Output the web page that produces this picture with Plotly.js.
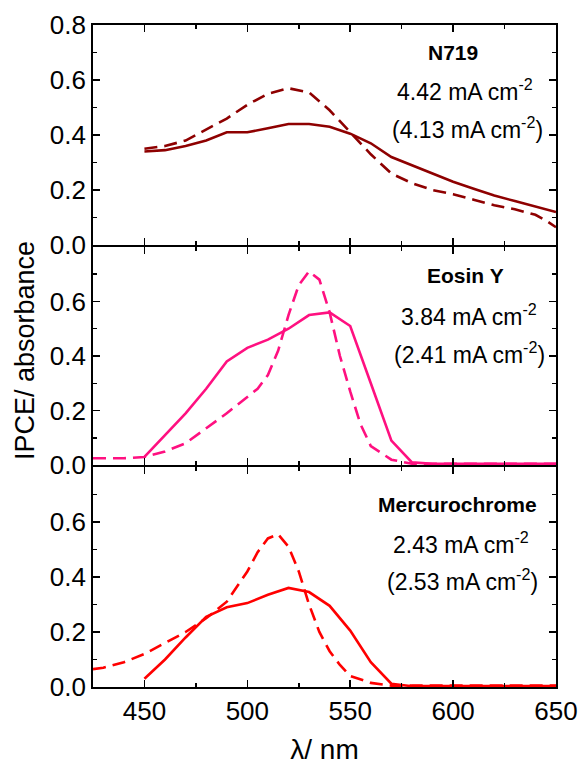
<!DOCTYPE html>
<html><head><meta charset="utf-8">
<script src="https://cdn.plot.ly/plotly-3.0.1.min.js"></script>
<style>body{margin:0;background:#fff}#chart{width:579px;height:765px}</style>
</head><body><div id="chart"></div>
<script>
// N719
const n719SolidX = [450,460,470,480,490,500,510,520,530,540,550,560,570,580,590,600,610,620,630,640,650];
const n719SolidY = [0.34,0.345,0.36,0.38,0.41,0.41,0.425,0.44,0.44,0.43,0.405,0.37,0.32,0.29,0.26,0.23,0.205,0.18,0.16,0.14,0.12];
const n719DashX = [450,460,470,480,490,500,510,520,530,540,550,560,570,580,590,600,610,620,630,640,645,650];
const n719DashY = [0.35,0.36,0.38,0.42,0.46,0.51,0.55,0.57,0.555,0.49,0.41,0.33,0.26,0.225,0.2,0.185,0.165,0.145,0.13,0.11,0.09,0.065];
// Eosin Y
const eosinSolidX = [450,460,470,480,490,500,510,520,530,540,550,560,570,580,590,600,610,620,630,640,650];
const eosinSolidY = [0.03,0.11,0.19,0.28,0.38,0.43,0.46,0.5,0.55,0.56,0.51,0.3,0.09,0.01,0.005,0.005,0.005,0.005,0.005,0.005,0.005];
const eosinDashX = [425,440,450,460,470,480,490,500,505,510,515,520,525,530,535,540,545,550,555,560,570,580,600,620,650];
const eosinDashY = [0.025,0.025,0.03,0.05,0.08,0.135,0.19,0.25,0.28,0.33,0.42,0.55,0.66,0.71,0.68,0.56,0.4,0.27,0.15,0.07,0.02,0.005,0.005,0.005,0.005];
// Mercurochrome
const mercSolidX = [450,460,470,480,490,500,510,520,530,540,550,560,570,580,600,620,650];
const mercSolidY = [0.03,0.1,0.18,0.255,0.29,0.305,0.335,0.36,0.345,0.295,0.205,0.09,0.012,0.003,0.003,0.003,0.003];
const mercDashX = [425,430,440,450,460,470,480,490,500,505,510,515,520,525,530,535,540,545,550,560,570,600,650];
const mercDashY = [0.065,0.07,0.09,0.12,0.16,0.2,0.25,0.31,0.42,0.49,0.54,0.555,0.51,0.42,0.3,0.2,0.13,0.08,0.04,0.015,0.005,0.005,0.005];
// panel texts
const panelNames = ['<b>N719</b>', '<b>Eosin Y</b>', '<b>Mercurochrome</b>'];
const currents = ['4.42 mA cm<sup>-2</sup>', '3.84 mA cm<sup>-2</sup>', '2.43 mA cm<sup>-2</sup>'];
const currentsAlt = ['(4.13 mA cm<sup>-2</sup>)', '(2.41 mA cm<sup>-2</sup>)', '(2.53 mA cm<sup>-2</sup>)'];

const cN719 = '#8E0000', cEosin = '#FF1080', cMerc = '#FF0000';
const dash = '13px,7px';
function tr(x, y, color, dashed, xa, ya) {
  return {x: x, y: y, xaxis: xa, yaxis: ya, type: 'scatter', mode: 'lines',
    line: {color: color, width: 2.6, dash: dashed ? dash : 'solid'}, hoverinfo: 'skip', showlegend: false};
}
const data = [
  tr(n719SolidX, n719SolidY, cN719, false, 'x3', 'y3'),
  tr(n719DashX, n719DashY, cN719, true, 'x3', 'y3'),
  tr(eosinSolidX, eosinSolidY, cEosin, false, 'x2', 'y2'),
  tr(eosinDashX, eosinDashY, cEosin, true, 'x2', 'y2'),
  tr(mercSolidX, mercSolidY, cMerc, false, 'x', 'y'),
  tr(mercDashX, mercDashY, cMerc, true, 'x', 'y')
];
const font = {family: 'Liberation Sans, Arial, sans-serif', color: '#000'};
const LW = 1.8;
function xax(anchor, labels) {
  return {anchor: anchor, range: [425, 650], showline: true, linecolor: '#000', linewidth: LW, mirror: 'ticks',
    ticks: 'inside', ticklen: 7, tickwidth: 1.5, tickcolor: '#000', tickvals: [450,500,550,600,650],
    showticklabels: labels, tickfont: {size: 26}, showgrid: false, zeroline: false,
    minor: {tickvals: [425,475,525,575,625], ticks: 'inside', ticklen: 4, tickwidth: 1.5, tickcolor: '#000'}};
}
function yax(domain, vals, anchor) {
  return {domain: domain, anchor: anchor, range: [0, 0.8], showline: true, linecolor: '#000', linewidth: LW, mirror: 'ticks',
    ticks: 'inside', ticklen: 7, tickwidth: 1.5, tickcolor: '#000', tickvals: vals, tickformat: '.1f',
    tickfont: {size: 26}, showgrid: false, zeroline: false,
    minor: {tickvals: [0.1,0.3,0.5,0.7], ticks: 'inside', ticklen: 4, tickwidth: 1.5, tickcolor: '#000'}};
}
const H = 662, e = (LW / 2) / H;
const d1 = 0.3338, d2 = 0.6662;
function ann(text, x, y, ax, size) {
  return {text: text, x: x, y: y, xref: ax[0], yref: ax[1], showarrow: false, font: {size: size}};
}
const axes = [['x3','y3'], ['x2','y2'], ['x','y']];
const nameXY = [[600, 0.70], [606, 0.695], [602, 0.665]];
const curXY = [[606, 0.565], [607.5, 0.55], [604, 0.525]];
const altXY = [[607, 0.425], [608, 0.41], [604.5, 0.39]];
const annotations = [];
for (let i = 0; i < 3; i++) {
  annotations.push(ann(panelNames[i], nameXY[i][0], nameXY[i][1], axes[i], 21));
  annotations.push(ann(currents[i], curXY[i][0], curXY[i][1], axes[i], 23));
  annotations.push(ann(currentsAlt[i], altXY[i][0], altXY[i][1], axes[i], 23));
}
annotations.push({text: 'IPCE/ absorbance', x: 0, y: 0.5, xref: 'paper', yref: 'paper', xanchor: 'center', yanchor: 'middle',
  showarrow: false, textangle: -90, font: {size: 27}, xshift: -68, yshift: 5});
const layout = {
  width: 579, height: 765, margin: {l: 93, r: 23, t: 25, b: 78},
  paper_bgcolor: '#fff', plot_bgcolor: '#fff', font: font, showlegend: false,
  xaxis: Object.assign(xax('y', true), {title: {text: 'λ/ nm', font: {size: 28}, standoff: 14}}),
  xaxis2: xax('y2', false),
  xaxis3: xax('y3', false),
  yaxis: yax([0, d1 - e], [0,0.2,0.4,0.6], 'x'),
  yaxis2: yax([d1 + e, d2 - e], [0,0.2,0.4,0.6], 'x2'),
  yaxis3: yax([d2 + e, 1], [0,0.2,0.4,0.6,0.8], 'x3'),
  annotations: annotations
};
Plotly.newPlot('chart', data, layout, {staticPlot: true});
</script></body></html>
